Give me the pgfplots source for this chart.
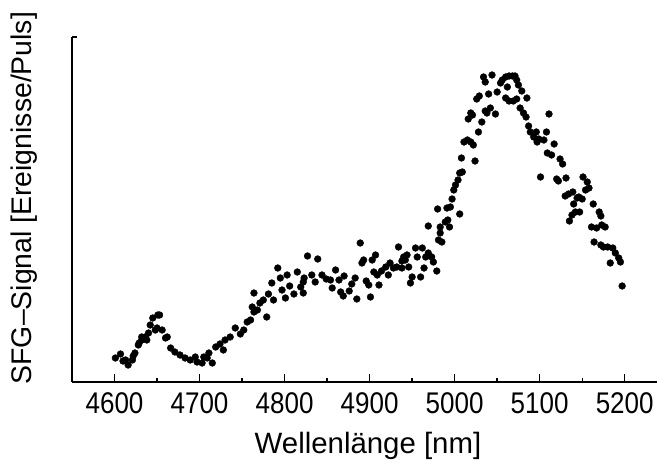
\documentclass[border=0pt]{standalone}
\usepackage{fontspec}
\setmainfont{Liberation Sans}
\newfontfamily\tickfont[FakeStretch=0.87]{Liberation Sans}
\usepackage{pgfplots}
\pgfplotsset{compat=1.18}

\begin{document}
\begin{tikzpicture}
\begin{axis}[
    scale only axis, width=585bp, height=345bp,
    at={(0,0)}, anchor=south west,
    xmin=4550, xmax=5238, ymin=0, ymax=345,
    axis x line*=bottom, axis y line*=left,
    axis line style={line width=1.3bp, -},
    every tick/.style={black, line width=1.3bp},
    tick align=inside,
    major tick length=8bp, minor tick length=4bp,
    xtick={4600,4700,...,5200}, minor x tick num=1,
    ytick=\empty,
    extra y ticks={345}, extra y tick labels={},
    extra y tick style={major tick length=5bp},
    /pgf/number format/assume math mode=true,
    /pgf/number format/set thousands separator={},
    xticklabel style={font=\tickfont\fontsize{30}{34}\selectfont, anchor=base, yshift=-31bp},
    xlabel={Wellenlänge [nm]},
    ylabel={SFG--Signal [Ereignisse/Puls]},
    every axis x label/.style={at={(axis description cs:0.506,-0.186)}, anchor=center,
        font=\fontsize{29.5}{33}\selectfont},
    every axis y label/.style={at={(axis description cs:-0.082,0.533)}, anchor=center,
        rotate=90, font=\fontsize{28.5}{32}\selectfont},
    clip=false,
]
\addplot[only marks, mark=*, mark size=3.4bp, color=black] coordinates {
(4601,24) (4607,28) (4610,21) (4613,22) (4616,17) (4621,22) (4622,26) (4624,29)
(4628,37) (4629,39) (4632,42) (4632,45) (4636,45) (4638,42) (4640,49) (4642,57)
(4645,64) (4648,52) (4650,54) (4651,67) (4653,67) (4656,52) (4660,44) (4662,45)
(4666,34) (4671,30) (4677,27) (4683,24) (4689,22) (4695,25) (4697,20) (4703,19)
(4705,25) (4709,24) (4711,29) (4715,19) (4719,35) (4724,38) (4728,32) (4730,42)
(4736,45) (4742,54) (4748,48) (4752,52) (4756,60) (4760,62) (4762,75) (4764,70)
(4764,89) (4768,72) (4771,79) (4775,82) (4779,65) (4781,88) (4785,99) (4787,82)
(4792,114) (4795,104) (4797,92) (4801,84) (4803,107) (4806,96) (4811,88) (4815,110)
(4819,95) (4822,100) (4822,89) (4823,104) (4827,126) (4832,107) (4836,100) (4839,123)
(4844,107) (4849,103) (4854,102) (4856,94) (4860,112) (4864,102) (4866,90) (4869,86)
(4870,106) (4876,91) (4879,98) (4883,104) (4885,83) (4889,139) (4891,119) (4893,122)
(4896,101) (4899,97) (4901,85) (4903,122) (4905,110) (4907,127) (4909,107) (4911,97)
(4914,111) (4919,115) (4922,107) (4924,119) (4928,114) (4932,115) (4934,135) (4938,121)
(4938,114) (4940,125) (4942,122) (4944,127) (4946,115) (4948,99) (4950,105) (4954,134)
(4956,125) (4960,105) (4962,134) (4964,114) (4966,125) (4969,156) (4969,129) (4973,125)
(4975,120) (4979,111) (4980,173) (4981,142) (4983,155) (4983,149) (4985,140) (4989,160)
(4991,174) (4992,162) (4994,155) (4995,175) (4997,183) (4999,192) (5001,197) (5004,202)
(5006,209) (5006,168) (5008,224) (5009,210) (5011,240) (5015,242) (5016,263) (5019,240)
(5019,269) (5021,267) (5022,237) (5024,221) (5026,283) (5028,250) (5029,286) (5032,260)
(5034,305) (5036,300) (5036,271) (5038,269) (5040,288) (5042,274) (5044,307) (5048,268)
(5050,290) (5054,299) (5056,302) (5060,305) (5060,284) (5062,295) (5064,306) (5064,281)
(5068,306) (5069,281) (5071,306) (5073,302) (5073,283) (5075,297) (5077,274) (5079,291)
(5081,269) (5084,265) (5085,284) (5087,256) (5089,250) (5093,245) (5096,250) (5097,240)
(5099,243) (5101,205) (5105,242) (5108,250) (5109,229) (5111,268) (5114,227) (5117,238)
(5120,203) (5122,201) (5124,223) (5127,218) (5130,186) (5131,204) (5134,188) (5135,161)
(5138,167) (5139,190) (5140,178) (5142,170) (5144,184) (5146,185) (5147,170) (5150,183)
(5151,205) (5154,192) (5156,200) (5158,194) (5161,155) (5163,178) (5164,140) (5167,154)
(5170,170) (5172,166) (5172,137) (5173,157) (5175,135) (5177,155) (5180,135) (5183,119)
(5186,134) (5189,129) (5193,124) (5195,120) (5197,96)
};
\end{axis}
\pgfresetboundingbox
\path[use as bounding box] (-72bp,-85bp) rectangle (585bp,382bp);
\end{tikzpicture}
\end{document}
